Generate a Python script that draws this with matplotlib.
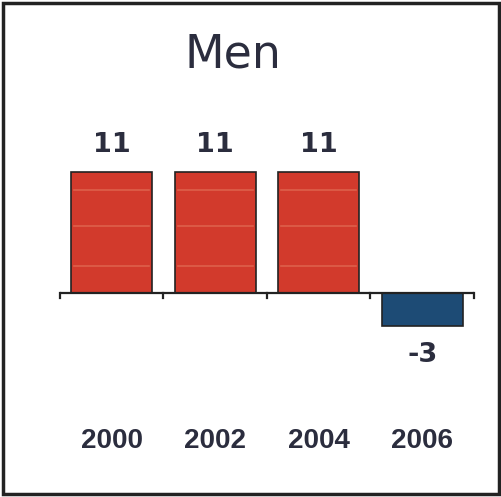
import matplotlib
matplotlib.use("Agg")
import matplotlib.pyplot as plt
from matplotlib.patches import Rectangle

categories = ["2000", "2002", "2004", "2006"]
values = [11, 11, 11, -3]
labels = ["11", "11", "11", "-3"]
title = "Men"

W, H = 502, 497
fig = plt.figure(figsize=(W / 100, H / 100), dpi=100)
fig.patch.set_facecolor("white")

x0, x1 = 60, 474
ax = fig.add_axes([x0 / W, (H - 348) / H, (x1 - x0) / W, 220 / H])
ax.set_xlim(-0.5, 3.5)
ax.set_ylim(-5, 15)

colors = ["#d23a2c" if v >= 0 else "#1d4b75" for v in values]
x = list(range(len(categories)))
bars = ax.bar(x, values, width=0.78, color=colors, edgecolor="#222222", linewidth=1.2, zorder=2)

# subtle light stripes to mimic the scanned texture
for b, v in zip(bars, values):
    if v > 0:
        for frac in [0.15, 0.45, 0.78]:
            yy = v * (1 - frac)
            ax.plot([b.get_x() + 0.03, b.get_x() + b.get_width() - 0.03], [yy, yy],
                    color="#e8866a", lw=1.2, alpha=0.5, zorder=3)

ax.axhline(0, color="#222222", lw=1.6, zorder=4)
for t in [-0.5, 0.5, 1.5, 2.5, 3.5]:
    ax.plot([t, t], [0, -0.45], color="#222222", lw=1.6, zorder=4, clip_on=False)

txtcol = "#2b2d3e"
for xi, v, lab in zip(x, values, labels):
    if v >= 0:
        ax.text(xi, v + 1.3, lab, ha="center", va="bottom", fontsize=19.5,
                fontweight="bold", color=txtcol, family="DejaVu Sans")
    else:
        ax.text(xi, v - 1.5, lab, ha="center", va="top", fontsize=19.5,
                fontweight="bold", color=txtcol, family="DejaVu Sans")

step = (x1 - x0) / len(categories)
for xi, c in zip(x, categories):
    fig.text((x0 + (xi + 0.5) * step) / W, 1 - 441 / H, c, ha="center", va="center",
             fontsize=20, fontweight="bold", color=txtcol,
             family=["Liberation Sans", "DejaVu Sans"])

fig.text(233 / W, 1 - 55 / H, title, ha="center", va="center", fontsize=33,
         color=txtcol)

for s in ax.spines.values():
    s.set_visible(False)
ax.set_xticks([])
ax.set_yticks([])
ax.patch.set_alpha(0)

fig.add_artist(Rectangle((3 / W, 3 / H), (W - 6) / W, (H - 6) / H, transform=fig.transFigure,
                         fill=False, edgecolor="#222222", lw=2.5))

fig.savefig("out.png", dpi=100, facecolor="white")
